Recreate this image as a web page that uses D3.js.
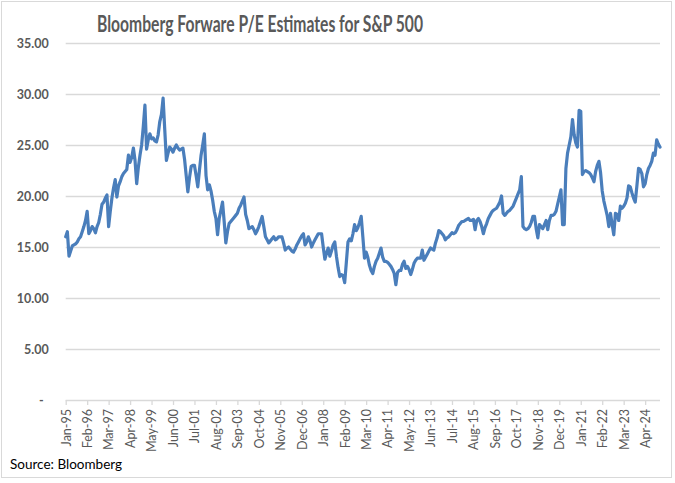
<!DOCTYPE html>
<html>
<head>
<meta charset="utf-8">
<script src="https://cdn.jsdelivr.net/npm/d3@7"></script>
<style>
  html, body { margin: 0; padding: 0; background: #fff; }
  svg { display: block; }
</style>
</head>
<body>
<svg id="chart" width="675" height="483"></svg>
<script>
// ---- Data (monthly, Jan-95 .. Jan-25) ----
const startMonth = "1995-01";
const peValues = [
  16.0,16.5,14.1,14.6,15.1,15.2,15.3,15.5,15.8,16.0,16.5,17.0,
  17.6,18.5,16.3,16.6,17.0,16.8,16.4,17.0,17.4,18.2,19.2,19.4,
  19.8,20.1,17.0,18.5,19.8,20.8,21.6,19.9,21.0,21.4,21.9,22.2,
  22.4,22.6,24.0,23.3,23.8,24.7,23.5,21.2,22.8,24.0,25.0,26.8,
  28.9,24.6,25.5,26.1,25.6,25.7,25.4,25.3,26.0,27.3,28.0,29.6,
  26.5,23.5,24.2,24.8,24.6,24.3,24.7,25.0,24.7,24.5,24.6,24.7,
  23.6,22.0,20.4,21.8,22.9,23.0,23.0,22.0,20.9,22.5,24.0,25.0,
  26.1,22.0,20.6,21.1,20.5,19.6,18.5,17.8,16.2,17.8,18.6,19.4,
  17.5,15.4,16.5,17.3,17.5,17.7,17.9,18.1,18.3,18.8,19.1,19.5,
  19.9,18.2,17.6,16.8,16.9,17.0,16.7,16.3,16.6,17.0,17.5,18.0,
  17.0,16.0,15.7,15.4,15.6,15.8,16.0,15.7,15.8,16.0,16.0,16.0,
  15.4,14.7,14.9,15.0,14.8,14.6,14.5,14.8,15.2,15.5,15.8,16.1,
  16.3,15.2,15.5,16.0,15.6,15.0,15.4,15.7,16.0,16.3,16.3,16.3,
  15.0,13.8,14.4,14.9,14.1,14.6,15.2,15.5,14.1,13.0,12.1,12.3,
  12.2,11.5,13.5,15.5,15.8,15.6,16.3,17.2,16.6,16.9,17.4,18.0,
  16.0,13.9,14.5,14.0,13.2,12.7,12.4,13.1,13.6,13.9,14.4,14.9,
  14.0,13.6,13.6,13.5,13.3,13.1,12.8,12.4,11.3,12.5,12.7,12.7,
  13.3,13.6,12.9,13.1,12.8,12.3,12.8,13.4,13.7,13.9,13.9,13.9,
  14.7,13.7,14.0,14.3,14.6,14.9,14.8,14.7,15.4,15.9,16.6,16.5,
  16.3,16.1,15.7,15.9,16.0,16.2,16.4,16.3,16.4,16.7,17.1,17.3,
  17.5,17.5,17.6,17.7,17.8,17.6,17.6,17.7,16.7,17.6,17.8,17.5,
  17.0,16.3,16.9,17.3,17.8,18.1,18.4,18.6,18.7,18.8,19.1,19.4,
  20.0,18.3,18.1,18.3,18.5,18.6,18.8,19.0,19.4,19.8,20.2,20.6,
  21.9,17.0,16.8,16.7,16.8,17.0,17.4,18.0,18.0,16.8,15.9,17.2,
  17.0,16.8,17.2,17.6,16.7,17.6,18.1,18.1,18.2,18.5,19.2,19.9,
  20.6,17.2,17.2,22.7,24.2,25.0,25.8,27.5,26.0,25.2,24.8,28.4,
  28.3,22.1,22.4,22.5,22.4,22.3,22.1,21.8,21.4,22.4,23.0,23.4,
  22.3,20.5,19.5,18.8,18.1,17.0,18.3,17.2,16.2,18.3,18.2,17.6,
  19.0,18.8,19.0,19.3,19.8,21.0,20.9,20.3,19.8,19.4,21.0,22.7,
  22.6,22.2,20.9,21.2,22.1,22.7,23.0,23.4,24.2,24.0,25.5,25.1,
  24.8
];
const yTicks = [0, 5, 10, 15, 20, 25, 30, 35];
const xTickLabels = ["Jan-95","Feb-96","Mar-97","Apr-98","May-99","Jun-00","Jul-01",
  "Aug-02","Sep-03","Oct-04","Nov-05","Dec-06","Jan-08","Feb-09","Mar-10","Apr-11",
  "May-12","Jun-13","Jul-14","Aug-15","Sep-16","Oct-17","Nov-18","Dec-19","Jan-21",
  "Feb-22","Mar-23","Apr-24"];
const titleText = "Bloomberg Forware P/E Estimates for S&P 500";
const sourceText = "Source: Bloomberg";

// ---- Build ----
(function () {
const parse = d3.timeParse("%Y-%m");
const t0 = parse(startMonth);
const data = peValues.map((v, i) => ({ date: d3.timeMonth.offset(t0, i), value: v, i }));

const svg = d3.select("#chart");
const pLeft = 65.7, pRight = 660, pTop = 43, pBottom = 400;

const x = d3.scalePoint().domain(d3.range(peValues.length)).range([pLeft, pRight]);
const y = d3.scaleLinear().domain([0, 35]).range([pBottom, pTop]);

const font = "Lato, 'Open Sans', sans-serif";

// outer border
svg.append("rect").attr("x", 1.5).attr("y", 1.5).attr("width", 670).attr("height", 476)
  .attr("fill", "#fff").attr("stroke", "#d9d9d9").attr("stroke-width", 1);

// gridlines (y axis)
const yAxis = d3.axisLeft(y).tickValues(yTicks).tickSize(-(pRight - pLeft))
  .tickFormat(d => d === 0 ? "-" : d3.format(".2f")(d));
const gy = svg.append("g").attr("transform", `translate(${pLeft},0)`).call(yAxis);
gy.select(".domain").remove();
gy.selectAll(".tick line").attr("stroke", "#d9d9d9").attr("stroke-width", 1.3)
  .attr("stroke-opacity", d => d === 0 ? 0 : 1);
gy.selectAll(".tick text").attr("x", -17).attr("dy", "0.35em")
  .attr("fill", "#595959").style("font-family", font).style("font-size", "12.5px")
  .style("font-weight", "bold");
gy.selectAll(".tick text").filter(d => d === 0).attr("x", -22);

// x axis
const tickIdx = d3.range(0, peValues.length, 13).slice(0, xTickLabels.length);
const xAxis = d3.axisBottom(x).tickValues(tickIdx).tickSize(5).tickSizeOuter(0)
  .tickFormat((d, k) => xTickLabels[k]);
const gx = svg.append("g").attr("transform", `translate(0,${pBottom})`).call(xAxis);
gx.select(".domain").attr("stroke", "#d9d9d9").attr("stroke-width", 1.3)
  .attr("d", `M${pLeft},0.5H${pRight}`);
gx.selectAll(".tick line").attr("stroke", "#d9d9d9").attr("stroke-width", 1.3);
gx.selectAll(".tick text")
  .attr("transform", "rotate(-90)")
  .attr("text-anchor", "end")
  .attr("x", -9).attr("y", 0).attr("dy", "0.35em")
  .attr("fill", "#595959").style("font-family", font).style("font-size", "12.5px");

// line
const line = d3.line().x(d => x(d.i)).y(d => y(d.value)).curve(d3.curveLinear);
svg.append("path").datum(data).attr("d", line)
  .attr("fill", "none").attr("stroke", "#4a7ebb").attr("stroke-width", 3.2)
  .attr("stroke-linejoin", "round").attr("stroke-linecap", "round");

// title
svg.append("text").attr("x", 97).attr("y", 32)
  .attr("textLength", 326).attr("lengthAdjust", "spacingAndGlyphs")
  .attr("fill", "#595959").style("font-family", font).style("font-size", "22px")
  .style("font-weight", "bold").text(titleText);

// source
svg.append("text").attr("x", 10).attr("y", 469)
  .attr("fill", "#000").style("font-family", font).style("font-size", "13.5px")
  .text(sourceText);
})();
</script>
</body>
</html>
